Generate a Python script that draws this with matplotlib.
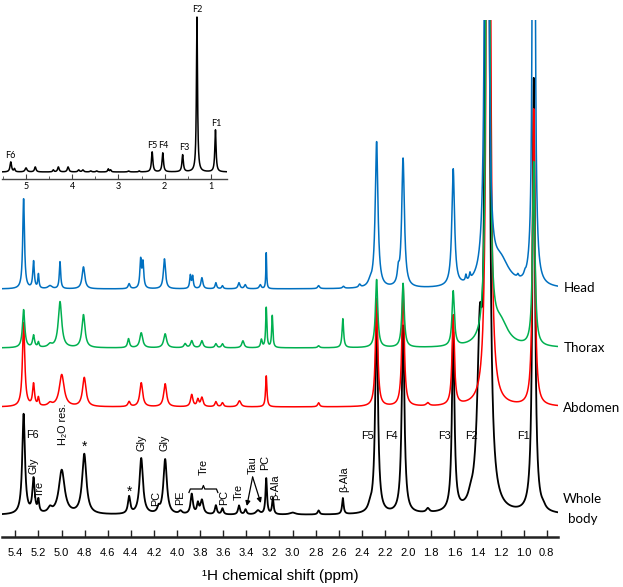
import numpy as np
import matplotlib
matplotlib.use("Agg")
import matplotlib.pyplot as plt
from matplotlib import font_manager as fm

# ---------------- data: peak lists (ppm, height, half-width) ----------------
wb_ppm = [5.328, 5.242, 5.20, 5.10, 4.998, 4.803, 4.415, 4.31, 4.16, 4.103, 3.97, 3.873, 3.82, 3.785,
          3.664, 3.607, 3.464, 3.407, 3.30, 3.228, 3.171, 3.00, 2.775, 2.565, 2.33, 2.273, 2.044, 1.83,
          1.61, 1.46, 1.38, 1.315, 0.913, 0.83]
wb_height = [100, 34, 12, 5, 44, 60, 17, 56, 5, 55, 3, 20, 10, 14,
             9, 6, 9, 5, 4, 36, 16, 2, 4, 16, 5, 200, 188, 4,
             178, 6, 150, 2500, 435, 3]
wb_width = [.014, .012, .008, .02, .03, .022, .012, .018, .012, .018, .015, .012, .01, .015,
            .01, .01, .01, .01, .02, .008, .008, .03, .01, .008, .02, .014, .014, .015,
            .013, .02, .025, .01, .013, .02]

ab_ppm = [5.328, 5.242, 5.20, 5.10, 4.998, 4.803, 4.415, 4.31, 4.103, 3.873, 3.82, 3.785, 3.664,
          3.607, 3.46, 3.228, 2.775, 2.273, 2.044, 1.83, 1.61, 1.305, 0.913]
ab_height = [84, 22, 8, 3, 32, 29, 5, 24, 23, 12, 7, 9, 5,
             4, 6, 31, 4, 108, 122, 3, 90, 3000, 297]
ab_width = [.012, .01, .007, .02, .025, .018, .012, .015, .015, .012, .01, .012, .01,
            .01, .015, .007, .01, .012, .012, .015, .012, .008, .012]

th_ppm = [5.328, 5.242, 5.20, 5.10, 5.013, 4.81, 4.42, 4.31, 4.103, 3.93, 3.873, 3.785, 3.664,
          3.607, 3.43, 3.27, 3.228, 3.176, 2.775, 2.565, 2.273, 2.044, 1.61, 1.31, 1.20, 0.913]
th_height = [38, 12, 5, 3, 46, 33, 9, 15, 14, 4, 7, 7, 4,
             4, 7, 8, 40, 32, 2, 29, 68, 64, 55, 2000, 22, 184]
th_width = [.012, .01, .007, .02, .018, .016, .01, .015, .015, .012, .012, .012, .01,
            .01, .012, .008, .006, .006, .01, .008, .012, .012, .012, .008, .08, .012]

hd_ppm = [5.328, 5.242, 5.20, 5.10, 5.013, 4.81, 4.415, 4.315, 4.295, 4.109, 3.885, 3.865, 3.785,
          3.664, 3.607, 3.464, 3.41, 3.28, 3.228, 2.775, 2.56, 2.42, 2.33, 2.273, 2.085, 2.044,
          1.61, 1.50, 1.465, 1.32, 1.20, 1.05, 0.99, 0.913]
hd_height = [90, 27, 14, 3, 27, 22, 5, 28, 25, 30, 13, 12, 11,
             6, 3, 6, 4, 4, 36, 3, 2, 3, 4, 146, 12, 129,
             117, 6, 6, 2300, 25, 3, 3, 2000]
hd_width = [.009, .008, .006, .02, .007, .014, .01, .008, .008, .011, .007, .007, .01,
            .008, .008, .01, .01, .01, .004, .01, .01, .01, .02, .014, .01, .014,
            .014, .006, .006, .008, .09, .008, .008, .006]

inset_ppm = [5.33, 5.25, 5.00, 4.80, 4.41, 4.30, 4.09, 3.86, 3.77, 3.60, 3.47, 3.22, 3.17,
             2.78, 2.55, 2.27, 2.04, 1.61, 1.30, 0.90]
inset_height = [10, 3, 4, 5, 2, 5, 5, 2, 2, 1, 1, 3, 2, 1, 1, 20, 19, 17, 155, 42]
inset_width = [.02, .015, .025, .02, .015, .02, .02, .02, .02, .02, .02, .015, .015,
               .02, .015, .018, .018, .018, .014, .016]

series_names = ["Whole body", "Abdomen", "Thorax", "Head"]
series_offsets = [0, 108, 167, 226]
series_colors = ["#000000", "#FF0000", "#00B050", "#0070C0"]

main_ticks = [5.4, 5.2, 5.0, 4.8, 4.6, 4.4, 4.2, 4.0, 3.8, 3.6, 3.4, 3.2, 3.0, 2.8, 2.6, 2.4,
              2.2, 2.0, 1.8, 1.6, 1.4, 1.2, 1.0, 0.8]
inset_ticks = [5, 4, 3, 2, 1]
inset_minor = [5.5, 4.5, 3.5, 2.5, 1.5]

# ---------------- fonts ----------------
names = {f.name for f in fm.fontManager.ttflist}
NARROW = "Liberation Sans Narrow" in names
ARIAL = ["Liberation Sans Narrow", "Liberation Sans", "DejaVu Sans"] if NARROW else ["Liberation Sans", "DejaVu Sans"]
CAL = ["Lato", "DejaVu Sans"]
tick_fs = 9.4 if NARROW else 8.0
xlab_fs = 13 if NARROW else 11
ann_fs = 9.0 if NARROW else 7.8


def spectrum(grid, ppm, h, w):
    p = np.asarray(ppm)[:, None]
    hh = np.asarray(h)[:, None]
    ww = np.asarray(w)[:, None]
    return (hh * ww ** 2 / ((grid[None, :] - p) ** 2 + ww ** 2)).sum(axis=0)


W, H = 623, 587
fig = plt.figure(figsize=(W / 100, H / 100), dpi=100)

# main axes
ax = fig.add_axes([2 / W, (H - 536.7) / H, 556 / W, (536.7 - 20) / H])
grid = np.linspace(5.52, 0.70, 9000)
spec_data = [(wb_ppm, wb_height, wb_width), (ab_ppm, ab_height, ab_width),
             (th_ppm, th_height, th_width), (hd_ppm, hd_height, hd_width)]
for (pp, hh, ww), off, col in zip(spec_data, series_offsets, series_colors):
    y = spectrum(grid, pp, hh, ww) + off
    ax.plot(grid, y, color=col, lw=1.3 if col == "#000000" else 1.1, solid_joinstyle="round")

ax.set_xlim(5.515, 0.703)
ax.set_ylim(-21.7, 495)
for s in ["top", "left", "right"]:
    ax.spines[s].set_visible(False)
ax.spines["bottom"].set_linewidth(1.8)
ax.spines["bottom"].set_color("#222222")
ax.set_yticks([])
ax.set_xticks(main_ticks)
ax.set_xticklabels([f"{t:.1f}" for t in main_ticks], family=ARIAL, fontsize=tick_fs)
ax.tick_params(axis="x", direction="in", length=5, width=1, pad=8, color="#222222")
ax.set_xlabel("¹H chemical shift (ppm)", family=ARIAL, fontsize=xlab_fs, labelpad=8)
ax.patch.set_alpha(0)

# series labels on the right
lab_kw = dict(family=CAL, fontsize=9.6, color="black", clip_on=False)
ax.text(0.655, 223.3, "Head", ha="left", va="baseline", **lab_kw)
ax.text(0.655, 163.3, "Thorax", ha="left", va="baseline", **lab_kw)
ax.text(0.660, 103, "Abdomen", ha="left", va="baseline", **lab_kw)
ax.text(0.489, 12.3, "Whole", ha="center", va="baseline", **lab_kw)
ax.text(0.489, -8.3, "body", ha="center", va="baseline", **lab_kw)

# peak annotations on the whole-body spectrum (text, ppm, y, rotation)
annotations = [
    ("F6", 5.252, 80, 0), ("Gly", 5.239, 49, 90), ("Tre", 5.187, 26, 90),
    ("H₂O res.", 4.99, 91, 90), ("*", 4.80, 68, 0), ("*", 4.412, 23, 0),
    ("Gly", 4.31, 72, 90), ("Gly", 4.112, 72, 90), ("PC", 4.18, 17, 90),
    ("PE", 3.974, 17, 90), ("Tre", 3.767, 48, 90), ("PC", 3.595, 18, 90),
    ("Tre", 3.466, 23, 90), ("Tau", 3.346, 50, 90), ("PC", 3.234, 53, 90),
    ("β-Ala", 3.148, 28, 90), ("β-Ala", 2.555, 36, 90),
    ("F5", 2.35, 79, 0), ("F4", 2.142, 79, 0), ("F3", 1.686, 79, 0),
    ("F2", 1.453, 79, 0), ("F1", 1.005, 79, 0),
]
for txt, xp, yp, rot in annotations:
    fs = ann_fs + 2 if txt == "*" else ann_fs
    ax.text(xp, yp, txt, rotation=rot, ha="center", va="center", family=ARIAL, fontsize=fs)

# brace over Tre multiplet
bx0, bx1, by = 3.897, 3.647, 26
bxm = (bx0 + bx1) / 2
brace_x = [bx0, bx0 - 0.012, bxm + 0.012, bxm, bxm - 0.012, bx1 + 0.012, bx1]
brace_y = [by - 3.5, by, by, by + 3.5, by, by, by - 3.5]
ax.plot(brace_x, brace_y, color="black", lw=0.9)

# Tau arrows
for tx, ty in [(3.396, 9), (3.275, 12)]:
    ax.annotate("", xy=(tx, ty), xytext=(3.346, 38),
                arrowprops=dict(arrowstyle="-|>", lw=0.9, color="black", mutation_scale=7,
                                shrinkA=0, shrinkB=0))

# ---------------- inset ----------------
ax2 = fig.add_axes([2 / W, (H - 179) / H, 225 / W, (179 - 5) / H])
ax2.patch.set_alpha(0)
igrid = np.linspace(5.55, 0.62, 5000)
ax2.plot(igrid, spectrum(igrid, inset_ppm, inset_height, inset_width), color="black", lw=1.1)
ax2.set_xlim(5.52, 0.65)
ax2.set_ylim(-7, 167)
for s in ["top", "left", "right"]:
    ax2.spines[s].set_visible(False)
ax2.spines["bottom"].set_linewidth(1.0)
ax2.spines["bottom"].set_color("#444444")
ax2.set_yticks([])
ax2.set_xticks(inset_ticks)
ax2.set_xticks(inset_minor, minor=True)
ax2.set_xticklabels([str(t) for t in inset_ticks], family=CAL, fontsize=6.5)
ax2.tick_params(axis="x", which="major", direction="in", length=3.5, width=0.8, pad=2, color="#444444")
ax2.tick_params(axis="x", which="minor", direction="in", length=2, width=0.6, color="#444444")
inset_labels = [("F2", 1.297, 162.5), ("F1", 0.885, 49), ("F5", 2.27, 26), ("F4", 2.03, 26),
                ("F3", 1.58, 25), ("F6", 5.34, 16)]
for txt, xp, yp in inset_labels:
    ax2.text(xp, yp, txt, ha="center", va="center", family=CAL, fontsize=6.5, clip_on=False)

fig.savefig("out.png", dpi=100)
